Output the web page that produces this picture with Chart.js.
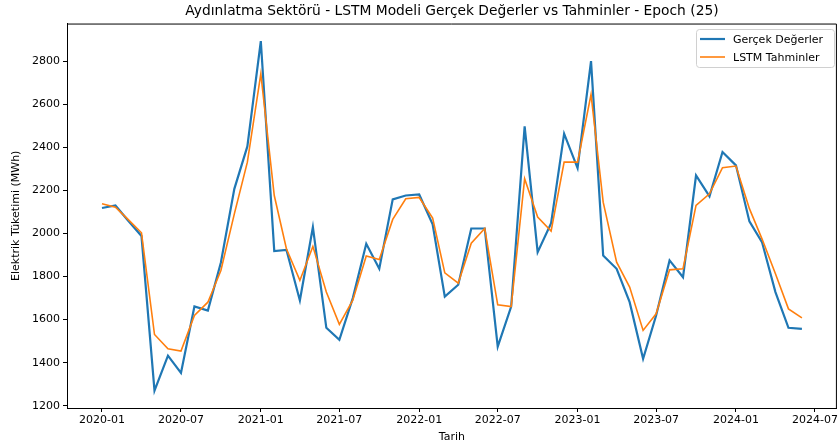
<!DOCTYPE html>
<html lang="tr">
<head>
  <meta charset="UTF-8">
  <title>Aydınlatma Sektörü - LSTM</title>
  <script src="https://cdn.jsdelivr.net/npm/chart.js"></script>
  <style>
    body { margin: 0; background: #fff; }
    #wrap { width: 840px; height: 444px; }
  </style>
</head>
<body>
  <div id="wrap"><canvas id="chart"></canvas></div>
  <script>
    // monthly dates (first of month)
    const months = [
      '2020-01', '2020-02', '2020-03', '2020-04', '2020-05', '2020-06', '2020-07', '2020-08', '2020-09', '2020-10', '2020-11', '2020-12',
      '2021-01', '2021-02', '2021-03', '2021-04', '2021-05', '2021-06', '2021-07', '2021-08', '2021-09', '2021-10', '2021-11', '2021-12',
      '2022-01', '2022-02', '2022-03', '2022-04', '2022-05', '2022-06', '2022-07', '2022-08', '2022-09', '2022-10', '2022-11', '2022-12',
      '2023-01', '2023-02', '2023-03', '2023-04', '2023-05', '2023-06', '2023-07', '2023-08', '2023-09', '2023-10', '2023-11', '2023-12',
      '2024-01', '2024-02', '2024-03', '2024-04', '2024-05', '2024-06'
    ];

    const actual = [
      2118, 2130, 2060, 1988, 1271, 1433, 1353, 1661, 1642, 1865, 2207, 2404,
      2893, 1918, 1924, 1689, 2029, 1562, 1506, 1700, 1952, 1836, 2158, 2176,
      2181, 2042, 1707, 1762, 2023, 2023, 1475, 1661, 2497, 1913, 2048, 2463,
      2303, 2800, 1898, 1836, 1681, 1418, 1619, 1875, 1797, 2269, 2172, 2378,
      2316, 2056, 1960, 1728, 1562, 1557
    ];

    const predicted = [
      2138, 2122, 2065, 2003, 1531, 1465, 1454, 1619, 1681, 1828, 2091, 2331,
      2741, 2176, 1929, 1782, 1940, 1728, 1578, 1690, 1895, 1879, 2065, 2161,
      2167, 2071, 1817, 1769, 1955, 2023, 1669, 1661, 2254, 2076, 2011, 2331,
      2331, 2645, 2145, 1867, 1751, 1550, 1627, 1831, 1836, 2130, 2184, 2305,
      2313, 2115, 1975, 1813, 1650, 1608
    ];

    const xTickLabels = ['2020-01', '2020-07', '2021-01', '2021-07', '2022-01', '2022-07', '2023-01', '2023-07', '2024-01', '2024-07'];
    const yTicks = [1200, 1400, 1600, 1800, 2000, 2200, 2400, 2600, 2800];

    const DAY = 86400000;
    const toDay = s => Date.parse(s + '-01T00:00:00Z') / DAY;

    const xs = months.map(toDay);
    const xTickVals = xTickLabels.map(toDay);
    const xSpan = xs[xs.length - 1] - xs[0];
    const allY = actual.concat(predicted);
    const yLo = Math.min(...allY), yHi = Math.max(...allY);
    const ySpan = yHi - yLo;

    Chart.defaults.font.family = "'DejaVu Sans', sans-serif";
    Chart.defaults.font.size = 11;
    Chart.defaults.color = '#000';

    // spines on top/right plus a matplotlib-like legend box
    const framePlugin = {
      id: 'frame',
      afterDraw(chart) {
        const { ctx, chartArea: a } = chart;
        ctx.save();
        ctx.strokeStyle = '#000';
        ctx.lineWidth = 1;
        ctx.beginPath();
        ctx.moveTo(a.left, a.top + 0.5);
        ctx.lineTo(a.right - 0.5, a.top + 0.5);
        ctx.lineTo(a.right - 0.5, a.bottom);
        ctx.stroke();

        // legend
        const bx = 696, by = 29, bw = 138, bh = 38;
        ctx.fillStyle = 'rgba(255,255,255,0.8)';
        ctx.strokeStyle = '#d0d0d0';
        ctx.beginPath();
        ctx.roundRect(bx + 0.5, by + 0.5, bw, bh, 3);
        ctx.fill();
        ctx.stroke();
        ctx.font = "11px 'DejaVu Sans'";
        ctx.textBaseline = 'middle';
        chart.data.datasets.forEach((ds, i) => {
          const y = by + 10 + i * 18;
          ctx.strokeStyle = ds.borderColor;
          ctx.lineWidth = ds.borderWidth;
          ctx.beginPath();
          ctx.moveTo(bx + 4, y);
          ctx.lineTo(bx + 29, y);
          ctx.stroke();
          ctx.fillStyle = '#000';
          ctx.fillText(ds.label, bx + 37, y + 1);
        });
        ctx.restore();
      }
    };

    new Chart(document.getElementById('chart'), {
      type: 'line',
      data: {
        datasets: [
          {
            label: 'Gerçek Değerler',
            data: xs.map((x, i) => ({ x, y: actual[i] })),
            borderColor: '#1f77b4',
            borderWidth: 2.2,
            pointRadius: 0,
            tension: 0,
            order: 1
          },
          {
            label: 'LSTM Tahminler',
            data: xs.map((x, i) => ({ x, y: predicted[i] })),
            borderColor: '#ff7f0e',
            borderWidth: 1.6,
            pointRadius: 0,
            tension: 0,
            order: 0
          }
        ]
      },
      options: {
        responsive: true,
        maintainAspectRatio: false,
        animation: false,
        layout: { padding: { left: 0, right: 3, top: 0, bottom: 0 } },
        plugins: {
          legend: { display: false },
          tooltip: { enabled: false },
          title: {
            display: true,
            fullSize: false,
            text: 'Aydınlatma Sektörü - LSTM Modeli Gerçek Değerler vs Tahminler - Epoch (25)',
            font: { size: 13.8, weight: 'normal' },
            color: '#000',
            padding: { top: 3, bottom: 4 }
          }
        },
        scales: {
          x: {
            type: 'linear',
            min: xs[0] - 0.05 * xSpan,
            max: xs[xs.length - 1] + 0.05 * xSpan,
            afterBuildTicks: s => { s.ticks = xTickVals.map(v => ({ value: v })); },
            afterFit: s => { s.height = 36; },
            ticks: {
              autoSkip: false,
              maxRotation: 0,
              padding: 2,
              callback: v => xTickLabels[xTickVals.indexOf(v)]
            },
            grid: { drawOnChartArea: false, drawTicks: true, tickLength: 4, color: '#000' },
            border: { display: true, color: '#000', width: 1 },
            title: { display: true, text: 'Tarih', font: { size: 11 }, padding: { top: 1, bottom: 0 } }
          },
          y: {
            type: 'linear',
            min: yLo - 0.05 * ySpan,
            max: yHi + 0.05 * ySpan,
            afterBuildTicks: s => { s.ticks = yTicks.map(v => ({ value: v })); },
            afterFit: s => { s.width = 67; },
            ticks: { padding: 3, callback: v => String(v) },
            grid: { drawOnChartArea: false, drawTicks: true, tickLength: 4, color: '#000' },
            border: { display: true, color: '#000', width: 1 },
            title: { display: true, text: 'Elektrik Tüketimi (MWh)', font: { size: 11 }, padding: { top: 10, bottom: 0 } }
          }
        }
      },
      plugins: [framePlugin]
    });
  </script>
</body>
</html>
